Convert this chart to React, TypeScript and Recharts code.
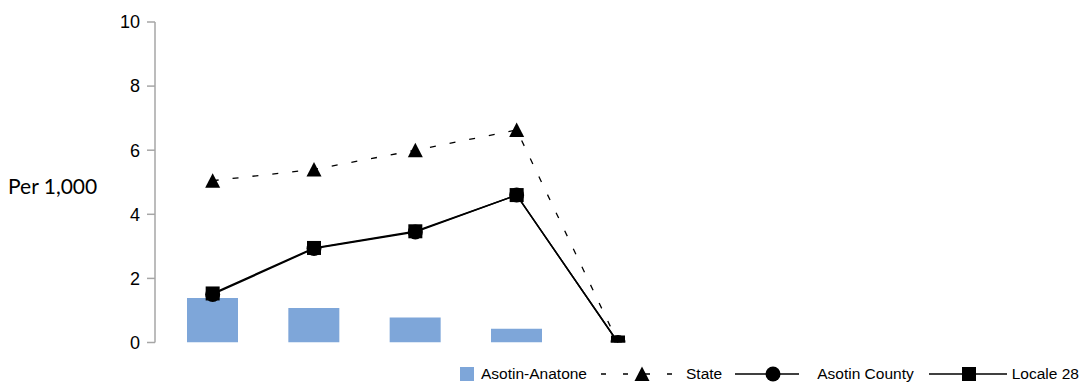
import React from "react";
import { ComposedChart, Bar, Line, XAxis, YAxis, Legend } from "recharts";

const categories = ["1", "2", "3", "4", "5", "6", "7", "8", "9"];
const asotinAnatone = [1.39, 1.08, 0.78, 0.43, 0, null, null, null, null];
const stateRate = [5.05, 5.4, 6.0, 6.63, 0, null, null, null, null];
const asotinCounty = [1.5, 2.93, 3.45, 4.6, 0, null, null, null, null];
const locale28 = [1.53, 2.95, 3.47, 4.6, 0, null, null, null, null];
const yTicks = [0, 2, 4, 6, 8, 10];

const data = categories.map((cat, i) => ({
  cat,
  anatone: asotinAnatone[i],
  state: stateRate[i],
  county: asotinCounty[i],
  locale: locale28[i],
}));

const BAR_COLOR = "#7EA6D9";
const AXIS_COLOR = "#A6A6A6";
const SANS = "'Liberation Sans', Arial, sans-serif";

type DotProps = { cx?: number; cy?: number; index?: number };

const triangleDot = (p: DotProps) => {
  if (p.cx == null || p.cy == null) return <g key={`t${p.index}`} />;
  const { cx, cy } = p;
  return (
    <polygon
      key={`t${p.index}`}
      points={`${cx},${cy - 7.5} ${cx + 7.5},${cy + 7} ${cx - 7.5},${cy + 7}`}
      fill="#000"
    />
  );
};

const circleDot = (p: DotProps) => {
  if (p.cx == null || p.cy == null) return <g key={`c${p.index}`} />;
  return <circle key={`c${p.index}`} cx={p.cx} cy={p.cy} r={7.5} fill="#000" />;
};

const squareDot = (p: DotProps) => {
  if (p.cx == null || p.cy == null) return <g key={`s${p.index}`} />;
  return <rect key={`s${p.index}`} x={p.cx - 7} y={p.cy - 7} width={14} height={14} fill="#000" />;
};

function ChartLegend() {
  const text: React.CSSProperties = { fontFamily: SANS, fontSize: 15.5, color: "#000", whiteSpace: "nowrap" };
  return (
    <div style={{ display: "flex", alignItems: "center", height: 20 }}>
      <span style={{ width: 14, height: 14, background: BAR_COLOR, display: "inline-block", marginRight: 7 }} />
      <span style={text}>Asotin-Anatone</span>
      <svg width={75} height={20} style={{ marginLeft: 12, marginRight: 12 }}>
        <line x1={2} y1={10} x2={75} y2={10} stroke="#000" strokeWidth={1.3} strokeDasharray="5 17" />
        <polygon points="43,2.5 50.5,17 35.5,17" fill="#000" />
      </svg>
      <span style={text}>State</span>
      <svg width={66} height={20} style={{ marginLeft: 11, marginRight: 18 }}>
        <line x1={2} y1={10} x2={66} y2={10} stroke="#000" strokeWidth={1.3} />
        <circle cx={40} cy={10} r={7.5} fill="#000" />
      </svg>
      <span style={text}>Asotin County</span>
      <svg width={78} height={20} style={{ marginLeft: 15, marginRight: 5 }}>
        <line x1={0} y1={10} x2={78} y2={10} stroke="#000" strokeWidth={1.3} />
        <rect x={33} y={3} width={14} height={14} fill="#000" />
      </svg>
      <span style={text}>Locale 28</span>
    </div>
  );
}

export default function App() {
  return (
    <div style={{ position: "absolute", left: 0, top: 0, width: 1081, height: 386, background: "#fff" }}>
      <ComposedChart width={1081} height={386} data={data} margin={{ top: 22, right: 7, bottom: 43.5, left: 0 }}>
        <XAxis dataKey="cat" hide padding={{ left: 7, right: 0 }} />
        <YAxis
          width={155}
          domain={[0, 10]}
          ticks={yTicks}
          allowDataOverflow
          tickSize={8}
          tickMargin={7}
          axisLine={{ stroke: AXIS_COLOR, strokeWidth: 1.5 }}
          tickLine={{ stroke: AXIS_COLOR, strokeWidth: 1.5 }}
          tick={{ fontFamily: SANS, fontSize: 18, fill: "#000" }}
          label={{
            value: "Per 1,000",
            position: "insideLeft",
            offset: 8,
            angle: 0,
            dy: 4,
            style: { fontFamily: "Lato, 'Open Sans', sans-serif", fontSize: 21, fill: "#000" },
          }}
        />
        <Legend
          verticalAlign="middle"
          align="center"
          content={() => <ChartLegend />}
          wrapperStyle={{ left: 460, top: 364, width: 621 }}
        />
        <Bar dataKey="anatone" name="Asotin-Anatone" fill={BAR_COLOR} barSize={51} isAnimationActive={false} />
        <Line
          dataKey="state"
          name="State"
          stroke="#000"
          strokeWidth={1.3}
          strokeDasharray="6 14"
          dot={triangleDot}
          activeDot={false}
          isAnimationActive={false}
        />
        <Line
          dataKey="county"
          name="Asotin County"
          stroke="#000"
          strokeWidth={1.5}
          dot={circleDot}
          activeDot={false}
          isAnimationActive={false}
        />
        <Line
          dataKey="locale"
          name="Locale 28"
          stroke="#000"
          strokeWidth={1.5}
          dot={squareDot}
          activeDot={false}
          isAnimationActive={false}
        />
      </ComposedChart>
    </div>
  );
}
